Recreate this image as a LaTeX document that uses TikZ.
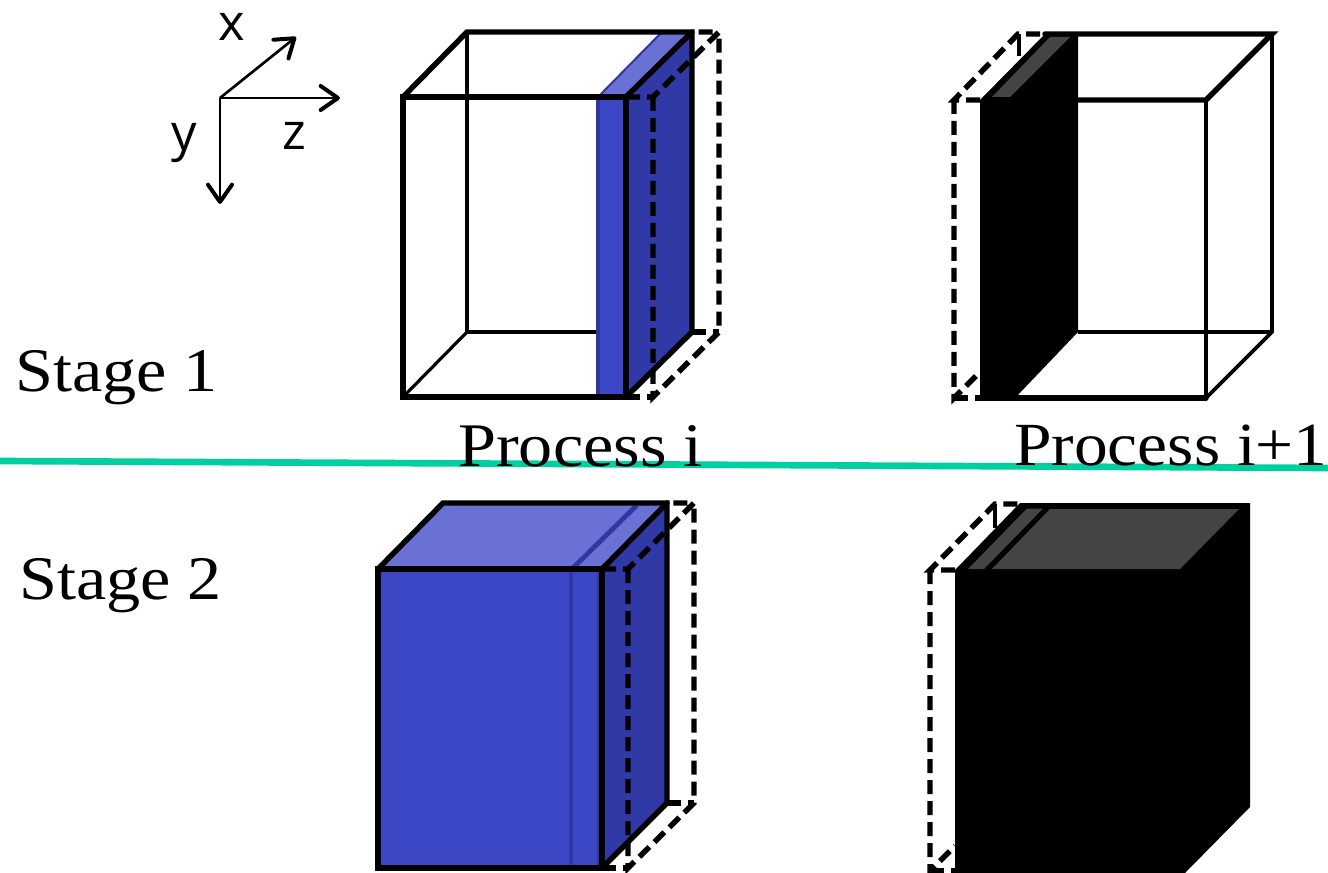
\documentclass[tikz,border=0pt]{standalone}
\usepackage{fontspec}
\setmainfont[FakeStretch=1.1]{Liberation Serif}
\newfontfamily\axisfont{Open Sans}
\usetikzlibrary{arrows.meta}
\definecolor{bfront}{HTML}{3C47C6}
\definecolor{bside}{HTML}{3039A6}
\definecolor{btop}{HTML}{6A70D4}
\definecolor{bedge}{HTML}{2E37A3}
\definecolor{gtop}{HTML}{444444}
\definecolor{sepline}{HTML}{00D0A0}
\tikzset{
  thickedge/.style={line width=4.1pt,line join=miter,line cap=round},
  thinedge/.style={line width=2.4pt},
  ghost/.style={line width=4.1pt,dash pattern=on 10.5pt off 5.25pt},
  axisline/.style={line width=2pt,-{Straight Barb[length=13pt,width=18pt,line width=3pt,round]}},
  axislabel/.style={font=\fontsize{38pt}{40pt}\selectfont\axisfont,inner sep=0pt},
  mainlabel/.style={font=\fontsize{46.5pt}{50pt}\selectfont,inner sep=0pt,anchor=base west},
  stripe/.style={line width=3.6pt,bedge}
}
\begin{document}
\begin{tikzpicture}[x=0.75pt,y=-0.75pt]
\useasboundingbox (0,0) rectangle (1328,873);
% separator
\coordinate (sepA) at (0,461);
\coordinate (sepB) at (1328,468);
\draw[sepline,line width=5pt] (sepA) -- (sepB);
% axes
\coordinate (O) at (220,98);
\coordinate (ax) at (296,37);
\coordinate (az) at (340,98);
\coordinate (ay) at (220,204);
\draw[axisline] (O) -- (ax);
\draw[axisline] (O) -- (az);
\draw[axisline] (O) -- (ay);
\node[axislabel] (lx) at (232,27) {x};
\node[axislabel] (ly) at (184,143) {y};
\node[axislabel] (lz) at (294,136) {z};
% labels
\node[mainlabel] (s1) at (15,392) {Stage 1};
\node[mainlabel] (s2) at (19,599) {Stage 2};
\node[mainlabel] (p1) at (458,466) {Process i};
\node[mainlabel,font=\fontsize{46pt}{50pt}\selectfont] (p2) at (1014,465) {Process i+1};

% --- Stage 1, process i
\draw[thinedge] (467,32) -- (467,332) -- (600,332);
\draw[thinedge] (403,397) -- (467,332);
\fill[bfront] (596,97) rectangle (626,397);
\fill[bedge] (596,97) rectangle (600,397);
\fill[bside] (626,97) -- (692,32) -- (692,332) -- (626,397) -- cycle;
\fill[btop] (598,97) -- (662,32) -- (692,32) -- (626,97) -- cycle;
\draw[bedge,line width=1.5pt] (598,97) -- (662,32);
\draw[thickedge] (403,97) rectangle (626,397);
\draw[thickedge] (403,97) -- (467,32) -- (692,32) -- (692,332) -- (626,397);
\draw[thickedge] (626,97) -- (692,32);
\draw[ghost] (626,97) -- (653,97) -- (719,32) -- (692,32);
\draw[ghost] (653,97) -- (653,397) -- (719,332) -- (719,32);
\draw[ghost] (626,397) -- (653,397);
\draw[ghost] (692,332) -- (719,332);

% --- Stage 1, process i+1
\draw[thinedge] (1078,332) -- (1272,332);
\draw[thickedge,line width=2.8pt] (1272,34) -- (1272,332) -- (1206,398);
\draw[thickedge] (1078,100) -- (1206,100) -- (1272,34) -- (1045,34);
\draw[thickedge,line width=3pt] (1206,100) -- (1206,398);
\draw[thickedge] (1206,398) -- (980,398);
\fill[black] (980,100) -- (1045,34) -- (1078,34) -- (1078,332) -- (1015,398) -- (980,398) -- cycle;
\fill[gtop] (992,97) -- (1050,37) -- (1070,37) -- (1010,97) -- cycle;
\draw[ghost] (980,100) -- (954,100) -- (1018,34) -- (1045,34);
\draw[ghost] (954,100) -- (954,398) -- (980,372);
\draw[ghost] (954,398) -- (980,398);
\draw[line width=3pt] (1019,34) -- (1019,56);

% --- Stage 2, process i
\fill[bfront] (378,569) rectangle (602,868);
\fill[bside] (602,569) -- (667,503) -- (667,803) -- (602,868) -- cycle;
\fill[btop] (378,569) -- (443,503) -- (667,503) -- (602,569) -- cycle;
\draw[stripe] (571,569) -- (571,868);
\draw[stripe] (573,568) -- (637,505);
\draw[bedge,line width=1.5pt] (598,569) -- (598,868);
\draw[thickedge] (378,569) rectangle (602,868);
\draw[thickedge] (378,569) -- (443,503) -- (667,503) -- (667,803) -- (602,868);
\draw[thickedge] (602,569) -- (667,503);
\draw[ghost] (602,569) -- (628,569) -- (694,503) -- (667,503);
\draw[ghost] (628,569) -- (628,868) -- (694,803) -- (694,503);
\draw[ghost] (602,868) -- (628,868);
\draw[ghost] (667,803) -- (694,803);

% --- Stage 2, process i+1
\fill[black] (955,570) -- (1020,503) -- (1250,503) -- (1250,807) -- (1185,873) -- (955,873) -- cycle;
\fill[gtop] (968,569) -- (1027,508.5) -- (1043,508.5) -- (984,569) -- cycle;
\fill[gtop] (992,569) -- (1050,509) -- (1239,509) -- (1180,569) -- cycle;
\draw[ghost] (955,570) -- (930,570) -- (995,504) -- (1020,504);
\draw[ghost] (930,570) -- (930,871) -- (955,846);
\draw[ghost] (930,871) -- (955,871);
\draw[line width=3pt] (995,504) -- (995,528);
\end{tikzpicture}
\end{document}
